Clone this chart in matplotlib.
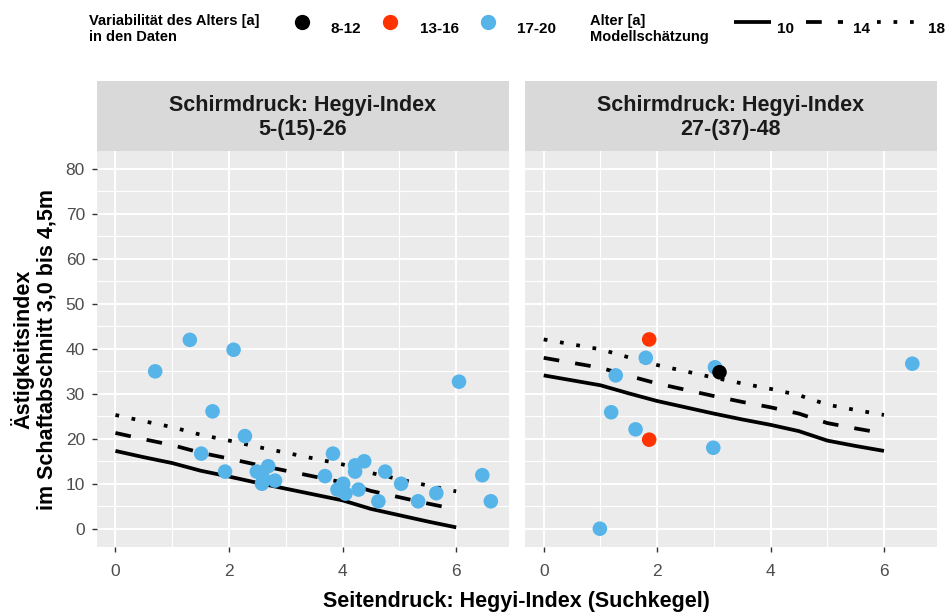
#!/usr/bin/env python3

import matplotlib
matplotlib.use('Agg')
import matplotlib.pyplot as plt
from matplotlib.patches import Rectangle
from matplotlib.lines import Line2D
import numpy as np

plt.rcParams['font.family'] = ['Liberation Sans', 'DejaVu Sans']

# Measured knot positions (Seitendruck) along the fitted model curves
x_model = [0, 0.5, 1, 1.5, 2, 2.5, 3, 3.5, 4, 4.5, 5, 5.5, 6]

# Panel 1: Hegyi-Index 5-(15)-26
p1_age10 = [17.3, 15.9, 14.6, 12.9, 11.6, 10.2, 8.9, 7.6, 6.3, 4.4, 3.0, 1.6, 0.3]
p1_age14 = [21.3, 19.9, 18.6, 16.9, 15.6, 14.2, 12.9, 11.6, 10.3, 8.4, 7.0, 5.6, 4.3]
p1_age18 = [25.3, 23.9, 22.6, 20.9, 19.6, 18.2, 16.9, 15.6, 14.3, 12.4, 11.0, 9.6, 8.3]

p1_x = [0.70, 1.31, 2.08, 1.71, 2.28, 1.51, 1.93, 2.49, 2.69, 2.58, 2.81, 2.60,
        3.69, 3.83, 4.22, 4.22, 4.38, 4.01, 3.91, 4.05, 4.28, 4.63, 4.75, 5.03,
        5.33, 5.65, 6.05, 6.46, 6.61]
p1_y = [35.0, 42.0, 39.8, 26.1, 20.6, 16.7, 12.7, 12.7, 13.9, 10.0, 10.7, 11.3,
        11.7, 16.7, 14.1, 12.7, 15.0, 10.0, 8.7, 7.8, 8.7, 6.1, 12.7, 10.0,
        6.1, 7.9, 32.7, 11.9, 6.1]
p1_grp = ['17-20'] * len(p1_x)

# Panel 2: Hegyi-Index 27-(37)-48
p2_age10 = [34.1, 33.0, 31.9, 30.1, 28.4, 27.0, 25.6, 24.3, 23.1, 21.7, 19.6, 18.4, 17.3]
p2_age14 = [38.0, 36.9, 35.8, 34.0, 32.3, 30.9, 29.5, 28.2, 27.0, 25.6, 23.5, 22.3, 21.2]
p2_age18 = [42.1, 41.0, 39.9, 38.1, 36.4, 35.0, 33.6, 32.3, 31.1, 29.7, 27.6, 26.4, 25.3]

p2_x = [1.80, 3.02, 1.27, 1.19, 1.62, 2.99, 0.99, 6.50, 1.86, 1.86, 3.10]
p2_y = [38.0, 35.9, 34.1, 25.9, 22.1, 18.0, 0.0, 36.7, 42.1, 19.8, 34.8]
p2_grp = ['17-20'] * 8 + ['13-16', '13-16', '8-12']

groups = ['8-12', '13-16', '17-20']
group_colors = {'8-12': '#000000', '13-16': '#FF3300', '17-20': '#56B4E9'}
ages = ['10', '14', '18']

panels = [
    ('Schirmdruck: Hegyi-Index\n5-(15)-26', [p1_age10, p1_age14, p1_age18], p1_x, p1_y, p1_grp),
    ('Schirmdruck: Hegyi-Index\n27-(37)-48', [p2_age10, p2_age14, p2_age18], p2_x, p2_y, p2_grp),
]

LW = 2.7
line_styles = {
    '10': dict(linestyle='-'),
    '14': dict(linestyle=(0, (4.2, 4.3))),
    '18': dict(linestyle=(0, (1, 3.4))),
}

W, H = 947, 614
fig = plt.figure(figsize=(W / 100, H / 100), dpi=100)


def fx(px):
    return px / W


def fy(py):
    return 1 - py / H


panel_top, panel_bot = 151, 546.7
lefts = [(96.7, 509.0), (525.0, 936.7)]
strip_h = 70 / (panel_bot - panel_top)

axes = []
for i, ((title, curves, xs, ys, grp), (l, r)) in enumerate(zip(panels, lefts)):
    ax = fig.add_axes([fx(l), fy(panel_bot), fx(r) - fx(l), fy(panel_top) - fy(panel_bot)])
    ax.set_facecolor('#EBEBEB')
    for s in ax.spines.values():
        s.set_visible(False)
    ax.set_xlim(-0.33, 6.93)
    ax.set_ylim(-4, 84)
    ax.set_xticks([0, 2, 4, 6])
    ax.set_xticks([1, 3, 5], minor=True)
    ax.set_yticks(np.arange(0, 81, 10))
    ax.set_yticks(np.arange(5, 80, 10), minor=True)
    ax.grid(which='major', color='white', linewidth=1.4)
    ax.grid(which='minor', color='white', linewidth=0.8)
    ax.set_axisbelow(True)
    ax.tick_params(which='major', length=3.5, width=1.0, color='#333333',
                   labelsize=12.5, labelcolor='#4D4D4D')
    ax.tick_params(axis='x', pad=9)
    ax.tick_params(axis='y', pad=5)
    ax.tick_params(which='minor', length=0)
    if i > 0:
        ax.tick_params(axis='y', left=False, labelleft=False)

    for age, yv in zip(ages, curves):
        ax.plot(x_model, yv, color='black', linewidth=LW, solid_capstyle='butt',
                dash_capstyle='butt', **line_styles[age])

    for g in ['17-20', '13-16', '8-12']:
        gx = [x for x, gg in zip(xs, grp) if gg == g]
        gy = [y for y, gg in zip(ys, grp) if gg == g]
        if gx:
            ax.scatter(gx, gy, s=110, color=group_colors[g], edgecolors='none', zorder=3)

    ax.add_patch(Rectangle((0, 1), 1, strip_h, transform=ax.transAxes,
                           facecolor='#D9D9D9', edgecolor='none', clip_on=False))
    ax.text(0.5, 1 + strip_h / 2 - 0.004, title, transform=ax.transAxes, ha='center', va='center',
            fontsize=15.5, fontweight='bold', color='#1A1A1A', linespacing=1.2)
    axes.append(ax)

# axis titles
fig.text(fx(516.7), fy(601), 'Seitendruck: Hegyi-Index (Suchkegel)', ha='center', va='center',
         fontsize=15.5, fontweight='bold')
fig.text(fx(34), fy(349), 'Ästigkeitsindex\nim Schaftabschnitt 3,0 bis 4,5m', ha='center',
         va='center', rotation=90, fontsize=15.5, fontweight='bold', linespacing=1.1)

# legend along the top
leg_y = 29
key_y = 22
fig.text(fx(89), fy(leg_y), 'Variabilität des Alters [a]\nin den Daten', ha='left', va='center',
         fontsize=10.5, fontweight='bold', linespacing=1.12)
for g, mx, tx in zip(groups, [301.7, 390, 488], [330, 420, 517]):
    fig.add_artist(Line2D([fx(mx)], [fy(key_y)], transform=fig.transFigure, marker='o',
                          markersize=11, color=group_colors[g], markeredgewidth=0))
    fig.text(fx(tx), fy(leg_y), g, ha='left', va='center', fontsize=11, fontweight='bold')

fig.text(fx(590), fy(leg_y), 'Alter [a]\nModellschätzung', ha='left', va='center',
         fontsize=10.5, fontweight='bold', linespacing=1.12)
for age, (k0, k1), tx in zip(ages, [(734, 771), (805.7, 843.3), (877, 919)], [777, 853, 928]):
    fig.add_artist(Line2D([fx(k0), fx(k1)], [fy(key_y), fy(key_y)], transform=fig.transFigure,
                          color='black', linewidth=LW, solid_capstyle='butt',
                          dash_capstyle='butt', **line_styles[age]))
    fig.text(fx(tx), fy(leg_y), age, ha='left', va='center', fontsize=11, fontweight='bold')

fig.savefig('out.png', dpi=100)
